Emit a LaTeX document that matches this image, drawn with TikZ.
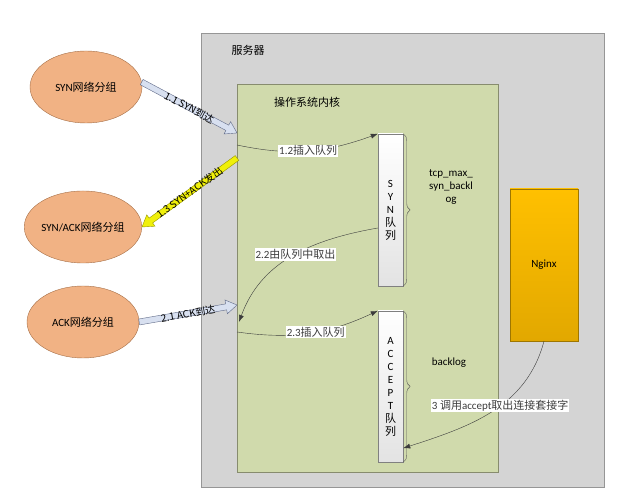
\documentclass[tikz,border=0pt]{standalone}
\usepackage{fontspec}
\setmainfont{Carlito}
\newfontfamily\cjk{Noto Sans CJK SC}
\usepackage{tikz}
\usetikzlibrary{arrows.meta,calc,shapes.geometric,decorations.pathreplacing}
\definecolor{ServerGray}{RGB}{212,212,212}
\definecolor{ServerEdge}{RGB}{150,150,150}
\definecolor{KernelGreen}{RGB}{208,218,172}
\definecolor{KernelEdge}{RGB}{135,140,110}
\definecolor{PacketOrange}{RGB}{241,178,132}
\definecolor{PacketEdge}{RGB}{165,110,70}
\definecolor{NginxTop}{RGB}{255,192,0}
\definecolor{NginxBot}{RGB}{226,168,0}
\definecolor{ArrowBlue}{RGB}{216,224,240}
\definecolor{ArrowBlueEdge}{RGB}{95,105,135}
\definecolor{SynYellow}{RGB}{240,240,10}
\definecolor{SynYellowEdge}{RGB}{150,150,0}
\definecolor{LineGray}{RGB}{60,60,60}
\newcommand{\fatarrow}[3]{%
  \coordinate (hb) at ($(#3)!11pt!(#2)$);
  \filldraw[#1] ($(#2)!3pt!90:(#3)$) -- ($(hb)!3pt!90:(#3)$) -- ($(hb)!7pt!90:(#3)$) -- (#3)
    -- ($(hb)!7pt!-90:(#3)$) -- ($(hb)!3pt!-90:(#3)$) -- ($(#2)!3pt!-90:(#3)$) -- cycle;}

\begin{document}
\begin{tikzpicture}[x=1pt,y=1pt,font=\fontsize{11}{13}\selectfont,
  packet/.style={ellipse,draw=PacketEdge,fill=PacketOrange,minimum width=112pt,minimum height=72pt,inner sep=0pt},
  queuebox/.style={draw=gray,top color=white,bottom color=gray!22,minimum width=25pt,inner sep=0pt,align=center},
  thinarrow/.style={LineGray,thin,-{Latex[length=7pt,width=5pt]}},
  steplabel/.style={fill=white,inner sep=1pt},
  arrowlabel/.style={sloped,inner sep=1pt,font=\cjk\fontsize{10}{12}\selectfont},
  qbrace/.style={draw=gray!70!black,decorate,decoration={brace,amplitude=7pt}},
  bluearrow/.style={draw=ArrowBlueEdge,fill=ArrowBlue,thin},
  yellowarrow/.style={draw=SynYellowEdge,fill=SynYellow,thin}]
\useasboundingbox (0,0) rectangle (618,502);
\draw[ServerEdge,fill=ServerGray] (201,469) rectangle (604,15);
\draw[KernelEdge,fill=KernelGreen] (237,418) rectangle (498,30);
\node (server) at (248,452) {\cjk 服务器};
\node (kernel) at (307,400) {\cjk 操作系统内核};
\node[packet] (synpkt) at (86,415) {SYN{\cjk 网络分组}};
\node[packet] (synack) at (83,275) {SYN/ACK{\cjk 网络分组}};
\node[packet] (ackpkt) at (83,180) {ACK{\cjk 网络分组}};
\node[queuebox,minimum height=152pt] (synq) at (390.5,292) {S\\Y\\N\\{\cjk 队}\\{\cjk 列}};
\node[queuebox,minimum height=151pt] (accq) at (390.5,115.5) {A\\C\\C\\E\\P\\T\\{\cjk 队}\\{\cjk 列}};
\node[draw=NginxBot!70!black,top color=NginxTop,bottom color=NginxBot,minimum width=68pt,minimum height=152pt] (nginx) at (544,237) {Nginx};
\draw[qbrace] (synq.north east) -- (synq.south east);
\node[align=center] (synlen) at (451,315) {tcp\_max\_\\syn\_backl\\og};
\draw[qbrace] (accq.north east) -- (accq.south east);
\node (acclen) at (449,139) {backlog};
% points on the kernel edge
\coordinate (k11) at (237,369);
\coordinate (k12) at (237,357);
\coordinate (k13) at (237,344);
\coordinate (k21) at (237,197);
\coordinate (k22) at (239,180);
\coordinate (k23) at (237,170);
% packets in and out
\fatarrow{bluearrow}{synpkt.5}{k11}
\fatarrow{yellowarrow}{k13}{synack.east}
\fatarrow{bluearrow}{ackpkt.east}{k21}
\path (synpkt.5) -- node[arrowlabel]{1.1 SYN到达} (k11);
\path (k13) -- node[arrowlabel]{1.3 SYN+ACK发出} (synack.east);
\path (ackpkt.east) -- node[arrowlabel]{2.1 ACK到达} (k21);
% queue moves
\draw[thinarrow] (k12) to[out=-12,in=200] node[steplabel,pos=.5]{1.2{\cjk 插入队列}} (synq.north west);
\draw[thinarrow] ([yshift=-18pt]synq.west) to[out=190,in=70] node[steplabel,pos=.48]{2.2{\cjk 由队列中取出}} (k22);
\draw[thinarrow] (k23) to[out=-8,in=205] node[steplabel,pos=.55]{2.3{\cjk 插入队列}} (accq.north west);
\draw[thinarrow] (nginx.south) to[out=-105,in=18] node[steplabel,pos=.44]{3 {\cjk 调用}accept{\cjk 取出连接套接字}} ([yshift=14pt]accq.south east);
\end{tikzpicture}
\end{document}
